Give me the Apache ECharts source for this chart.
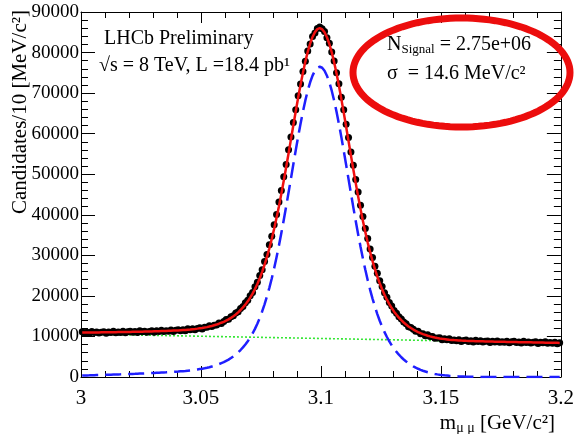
<!DOCTYPE html>
<html>
<head>
<meta charset="utf-8">
<script src="https://cdn.jsdelivr.net/npm/echarts@6/dist/echarts.min.js"></script>
<style>
  html, body { margin: 0; padding: 0; background: #fff; }
  #chart { width: 577px; height: 434px; }
</style>
</head>
<body>
<div id="chart"></div>
<script>
// Dimuon mass spectrum around the J/psi peak, 1 MeV/c^2 bins from 3.000 to 3.200 GeV/c^2
var massLow = 3.0;
var binWidth = 0.001;

// Observed candidates per bin
var dataCounts = [
  11135,10844,11033,10772,11221,10950,11109,10828,11027,11166,
  10795,11124,10983,11252,10921,11100,10989,11268,10897,11186,
  11305,11014,11203,10962,11411,11140,11309,11048,11247,11396,
  11035,11374,11243,11522,11201,11390,11299,11578,11227,11536,
  11675,11414,11633,11412,11901,11670,11889,11678,11947,12166,
  11865,12284,12243,12632,12431,12780,12839,13308,13177,13676,
  14155,14254,14883,15082,15761,16100,16919,17358,18297,18906,
  20045,20844,22273,23342,25051,26430,28479,30218,32627,34726,
  37545,40044,43123,45972,49381,52410,56029,59198,62777,65916,
  69365,72254,75343,77872,80381,82120,83949,84848,85917,86306,
  85845,85204,83673,82312,80141,77900,75039,72308,68977,65886,
  62305,59074,55453,52182,48701,45640,42329,39588,36627,34146,
  31575,29494,27283,25562,23711,22320,20769,19658,18377,17496,
  16415,15744,14843,14302,13541,13140,12419,12218,11757,11276,
  11265,10694,10643,10182,10421,9980,9979,9568,9637,9666,
  9195,9434,9213,9402,9011,9130,8969,9188,8767,9016,
  9095,8774,8933,8652,9071,8780,8909,8618,8787,8906,
  8505,8814,8653,8902,8551,8710,8579,8828,8437,8706,
  8795,8484,8653,8382,8811,8520,8659,8368,8547,8666,
  8275,8584,8423,8672,8321,8480,8349,8598,8207,8476
];

// Total fit (signal + background), per bin
var fitTotal = [
  10955,10964,10973,10972,10981,10990,10999,10998,11007,11016,
  11025,11034,11043,11052,11061,11070,11079,11098,11107,11116,
  11125,11134,11143,11162,11171,11180,11199,11218,11227,11246,
  11265,11284,11303,11322,11341,11360,11389,11408,11437,11466,
  11495,11534,11573,11612,11661,11710,11779,11848,11927,12016,
  12095,12194,12303,12432,12571,12750,12929,13138,13387,13606,
  13905,14204,14583,14982,15411,15950,16519,17158,17847,18656,
  19545,20544,21673,22942,24351,25930,27679,29618,31727,34026,
  36545,39244,42123,45172,48381,51710,55129,58598,62077,65516,
  68865,72054,75043,77772,80181,82220,83849,85048,85767,86006,
  85745,85004,83773,82112,80041,77600,74839,71808,68577,65186,
  61705,58174,54653,51182,47801,44540,41429,38488,35727,33146,
  30775,28594,26583,24762,23111,21620,20269,19058,17977,16996,
  16115,15344,14643,14002,13441,12940,12469,12068,11697,11376,
  11085,10814,10583,10382,10181,10020,9869,9738,9617,9516,
  9425,9344,9273,9202,9151,9100,9059,9018,8977,8946,
  8915,8894,8873,8852,8831,8820,8799,8788,8767,8756,
  8735,8724,8713,8702,8691,8680,8669,8658,8647,8636,
  8615,8604,8593,8582,8571,8560,8549,8538,8527,8516,
  8505,8494,8483,8472,8461,8450,8439,8428,8417,8406
];

// Signal component of the fit, per bin
var fitSignal = [
  360,380,400,410,430,450,470,480,500,520,
  540,560,580,600,620,640,660,690,710,730,
  750,770,790,820,840,860,890,920,940,970,
  1000,1030,1060,1090,1120,1150,1190,1220,1260,1300,
  1340,1390,1440,1490,1550,1610,1690,1770,1860,1960,
  2050,2160,2280,2420,2570,2760,2950,3170,3430,3660,
  3970,4280,4670,5080,5520,6070,6650,7300,8000,8820,
  9720,10730,11870,13150,14570,16160,17920,19870,21990,24300,
  26830,29540,32430,35490,38710,42050,45480,48960,52450,55900,
  59260,62460,65460,68200,70620,72670,74310,75520,76250,76500,
  76250,75520,74300,72650,70590,68160,65410,62390,59170,55790,
  52320,48800,45290,41830,38460,35210,32110,29180,26430,23860,
  21500,19330,17330,15520,13880,12400,11060,9860,8790,7820,
  6950,6190,5500,4870,4320,3830,3370,2980,2620,2310,
  2030,1770,1550,1360,1170,1020,880,760,650,560,
  480,410,350,290,250,210,180,150,120,100,
  80,70,60,50,40,40,30,30,20,20,
  10,10,10,10,10,10,10,10,10,10,
  0,0,0,0,0,0,0,0,0,0,
  0,0,0,0,0,0,0,0,0,0
];

// Background component, sampled every 10 MeV/c^2 from 3.00 to 3.20
var bkgStep = 0.01;
var fitBackground = [
  10600,10490,10380,10270,10160,10050,9940,9830,9720,9610,
  9500,9390,9280,9170,9060,8950,8840,8730,8620,8510,8400
];

// Axis ticks
var xTicks = [3, 3.05, 3.1, 3.15, 3.2];
var yMax = 90000;
var yStep = 10000;

// Fit results box
var nSignalText = '2.75e+06';
var sigmaText = '14.6 MeV/c²';

function binCenter(i) { return massLow + binWidth * (i + 0.5); }
function pairs(values, xOf) {
  var out = [];
  for (var i = 0; i < values.length; i++) out.push([xOf(i), values[i]]);
  return out;
}

var serif = 'Liberation Serif';
var chart = echarts.init(document.getElementById('chart'), null, { renderer: 'canvas' });

// Ellipse outline drawn round the fit result box
var ellipsePts = [];
(function () {
  var cx = 461.5, cy = 72.5, rx = 108.5, ry = 54.5;
  for (var k = 0; k < 120; k++) {
    var t = 2 * Math.PI * k / 120;
    ellipsePts.push([cx + rx * Math.cos(t), cy + ry * Math.sin(t)]);
  }
})();

var xAxisBase = {
  type: 'value', min: xTicks[0], max: xTicks[xTicks.length - 1], interval: 0.05,
  axisLine: { show: true, onZero: false, lineStyle: { color: '#000', width: 1 } },
  axisTick: { show: true, inside: true, length: 11, lineStyle: { color: '#000', width: 1 } },
  minorTick: { show: true, splitNumber: 5, length: 6, lineStyle: { color: '#000', width: 1 } },
  splitLine: { show: false }
};
var yAxisBase = {
  type: 'value', min: 0, max: yMax, interval: yStep,
  axisLine: { show: true, onZero: false, lineStyle: { color: '#000', width: 1 } },
  axisTick: { show: true, inside: true, length: 14, lineStyle: { color: '#000', width: 1 } },
  minorTick: { show: true, splitNumber: 5, length: 7, lineStyle: { color: '#000', width: 1 } },
  splitLine: { show: false }
};

var option = {
  animation: false,
  backgroundColor: '#fff',
  grid: { left: 81, right: 16, top: 12, bottom: 57, containLabel: false },
  xAxis: [
    Object.assign({}, xAxisBase, {
      position: 'bottom',
      axisLabel: {
        show: true, margin: 11, color: '#000', fontFamily: serif, fontSize: 21,
        formatter: function (v) { return String(parseFloat(v.toFixed(2))); }
      }
    }),
    Object.assign({}, xAxisBase, { position: 'top', axisLabel: { show: false } })
  ],
  yAxis: [
    Object.assign({}, yAxisBase, {
      position: 'left',
      axisLabel: { show: true, margin: 2, color: '#000', fontFamily: serif, fontSize: 19,
        formatter: function (v) { return String(Math.round(v)); } }
    }),
    Object.assign({}, yAxisBase, { position: 'right', axisLabel: { show: false } })
  ],
  title: [
    { text: 'LHCb Preliminary', left: 99, top: 24,
      textStyle: { fontFamily: serif, fontSize: 20, fontWeight: 'normal', color: '#000' } },
    { text: '√s = 8 TeV, L =18.4 pb¹', left: 94, top: 51,
      textStyle: { fontFamily: serif, fontSize: 20, fontWeight: 'normal', color: '#000' } },
    { text: 'N{sub|Signal} = ' + nSignalText, left: 382, top: 28,
      textStyle: { fontFamily: serif, fontSize: 20, fontWeight: 'normal', color: '#000',
        rich: { sub: { fontFamily: serif, fontSize: 13, verticalAlign: 'bottom', padding: [10, 0, 0, 0], color: '#000' } } } },
    { text: 'σ  = ' + sigmaText, left: 382, top: 59,
      textStyle: { fontFamily: serif, fontSize: 20, fontWeight: 'normal', color: '#000' } },
    { text: 'm{sub|μ μ} [GeV/c²]', right: 17, top: 406,
      textStyle: { fontFamily: serif, fontSize: 21, fontWeight: 'normal', color: '#000',
        rich: { sub: { fontFamily: serif, fontSize: 14, verticalAlign: 'bottom', padding: [10, 0, 0, 0], color: '#000' } } } }
  ],
  graphic: [
    { type: 'text', x: 20, y: 10, rotation: Math.PI / 2,
      style: { text: 'Candidates/10 [MeV/c²]', fontFamily: serif, fontSize: 21,
        fill: '#000', align: 'right', verticalAlign: 'middle' } },
    { type: 'polygon', z: 100, shape: { points: ellipsePts },
      style: { fill: 'none', stroke: '#ec0d0d', lineWidth: 7 } }
  ],
  series: [
    { name: 'background', type: 'line', showSymbol: false, z: 2,
      data: pairs(fitBackground, function (i) { return massLow + bkgStep * i; }),
      lineStyle: { color: '#33e633', width: 1.6, type: [2, 2] } },
    { name: 'data', type: 'scatter', z: 3, symbol: 'circle', symbolSize: 7,
      data: pairs(dataCounts, binCenter),
      itemStyle: { color: '#000', opacity: 1 } },
    { name: 'signal', type: 'line', showSymbol: false, z: 4,
      data: pairs(fitSignal, binCenter),
      lineStyle: { color: '#1f1fff', width: 2.5, type: [16, 7] } },
    { name: 'total', type: 'line', showSymbol: false, z: 5,
      data: pairs(fitTotal, binCenter),
      lineStyle: { color: '#f01010', width: 2.5 } }
  ]
};
chart.setOption(option);
</script>
</body>
</html>
